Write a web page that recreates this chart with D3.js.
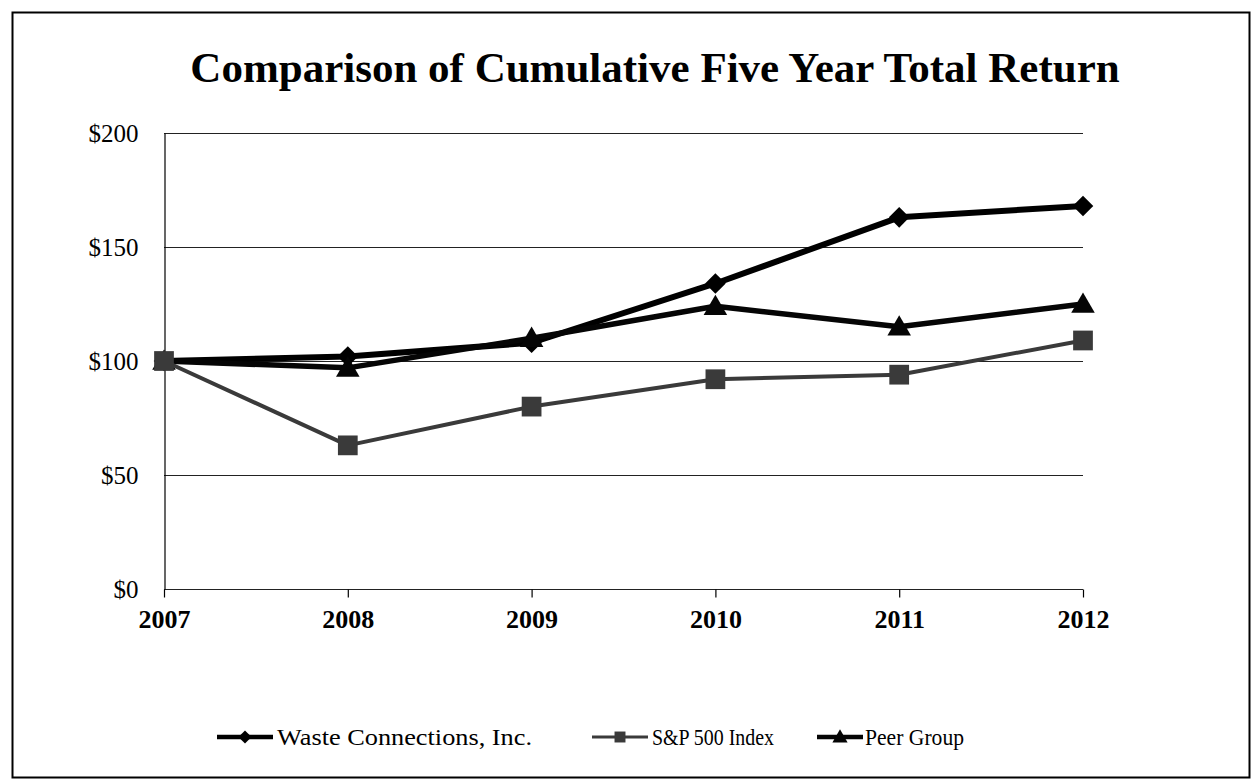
<!DOCTYPE html>
<html lang="en">
<head>
<meta charset="utf-8">
<title>Cumulative Total Return</title>
<script src="https://d3js.org/d3.v7.min.js"></script>
<style>
  body { margin: 0; background: #fff; }
  svg text { font-family: "Liberation Serif", "DejaVu Serif", "Times New Roman", Times, serif; fill: #000; }
</style>
</head>
<body>
<div id="chart"></div>
<script>

// data
var years = [2007, 2008, 2009, 2010, 2011, 2012];
var wasteConnections = [100, 102, 108, 134, 163, 168];
var sp500 = [100, 63, 80, 92, 94, 109];
var peerGroup = [100, 97, 110, 124, 115, 125];
var yTicks = [0, 50, 100, 150, 200];
var seriesNames = ["Waste Connections, Inc.", "S&P 500 Index", "Peer Group"];

var width = 1251, height = 782;
var margin = {left: 164, right: 168, top: 133, bottom: 193};

var svg = d3.select("#chart")
  .append("svg")
  .attr("width", width)
  .attr("height", height);

// outer frame
svg.append("rect")
  .attr("x", 12.5).attr("y", 12.5)
  .attr("width", width - 14).attr("height", height - 17)
  .attr("fill", "none")
  .attr("stroke", "#000")
  .attr("stroke-width", 2);

svg.append("text")
  .attr("x", 655)
  .attr("y", 82)
  .attr("text-anchor", "middle")
  .style("font-size", "43px")
  .style("font-weight", "bold")
  .text("Comparison of Cumulative Five Year Total Return");

var x = d3.scaleLinear()
  .domain([years[0], years[years.length - 1]])
  .range([margin.left, width - margin.right]);

var y = d3.scaleLinear()
  .domain([0, 200])
  .range([height - margin.bottom, margin.top]);

// gridlines
svg.append("g")
  .selectAll("line")
  .data(yTicks)
  .enter()
  .append("line")
    .attr("x1", x.range()[0])
    .attr("x2", x.range()[1])
    .attr("y1", function(d) { return Math.round(y(d)) + 0.5; })
    .attr("y2", function(d) { return Math.round(y(d)) + 0.5; })
    .attr("stroke", "#222")
    .attr("stroke-width", 1.2);

// y axis
var yAxis = svg.append("g")
  .attr("transform", "translate(" + (margin.left + 0.5) + ",0)")
  .call(d3.axisLeft(y).tickValues(yTicks).tickSize(0).tickPadding(26)
    .tickFormat(function(d) { return "$" + d; }));
yAxis.select(".domain").attr("stroke", "#000").attr("stroke-width", 1.2);
yAxis.selectAll("text")
  .style("font-size", "25px")
  .attr("fill", "#000");

// x axis
var xAxis = svg.append("g")
  .attr("transform", "translate(0," + (Math.round(y(0)) + 0.5) + ")")
  .call(d3.axisBottom(x).tickValues(years).tickSize(8).tickPadding(12)
    .tickFormat(d3.format("d")));
xAxis.select(".domain").remove();
xAxis.selectAll(".tick line").attr("stroke", "#000").attr("stroke-width", 1.2);
xAxis.selectAll("text")
  .style("font-size", "26px")
  .style("font-weight", "bold")
  .attr("fill", "#000");

var line = d3.line()
  .x(function(d, i) { return x(years[i]); })
  .y(function(d) { return y(d); });

var diamond = d3.symbol().type(d3.symbolDiamond2);
var square = d3.symbol().type(d3.symbolSquare);
var triangle = d3.symbol().type(d3.symbolTriangle);

var series = [
  {name: seriesNames[0], values: wasteConnections, color: "#000", width: 6, symbol: diamond.size(270)},
  {name: seriesNames[2], values: peerGroup, color: "#050505", width: 5.5, symbol: triangle.size(240)},
  {name: seriesNames[1], values: sp500, color: "#3a3a3a", width: 4, symbol: square.size(390)}
];

series.forEach(function(s) {
  svg.append("path")
    .datum(s.values)
    .attr("d", line)
    .attr("fill", "none")
    .attr("stroke", s.color)
    .attr("stroke-width", s.width)
    .attr("stroke-linejoin", "round");

  svg.append("g")
    .selectAll("path")
    .data(s.values)
    .enter()
    .append("path")
      .attr("d", s.symbol)
      .attr("transform", function(d, i) {
        var dy = s.symbol === triangle ? 2 : 0;
        return "translate(" + x(years[i]) + "," + (y(d) + dy) + ")";
      })
      .attr("fill", s.color);
});

// legend, in the original order
var legendOrder = [series[0], series[2], series[1]];
var legendSymbols = [
  d3.symbol().type(d3.symbolDiamond2).size(110),
  d3.symbol().type(d3.symbolSquare).size(120),
  d3.symbol().type(d3.symbolTriangle).size(100)
];
var legendX = [217, 592, 817];
var legendTextW = [255, 122, 99];
var legend = svg.append("g").attr("transform", "translate(0,737)");
legendOrder.forEach(function(s, i) {
  var g = legend.append("g").attr("transform", "translate(" + legendX[i] + ",0)");
  g.append("line")
    .attr("x1", 0).attr("x2", i === 2 ? 46 : 56)
    .attr("stroke", s.color)
    .attr("stroke-width", i === 1 ? 3 : 4.5);
  g.append("path")
    .attr("d", legendSymbols[i])
    .attr("transform", "translate(" + (i === 2 ? 23 : 28) + "," + (i === 2 ? 1 : 0) + ")")
    .attr("fill", s.color);
  g.append("text")
    .attr("x", i === 2 ? 48 : 60)
    .attr("y", 8)
    .attr("textLength", legendTextW[i])
    .attr("lengthAdjust", "spacingAndGlyphs")
    .style("font-size", "24px")
    .text(s.name);
});

</script>
</body>
</html>
